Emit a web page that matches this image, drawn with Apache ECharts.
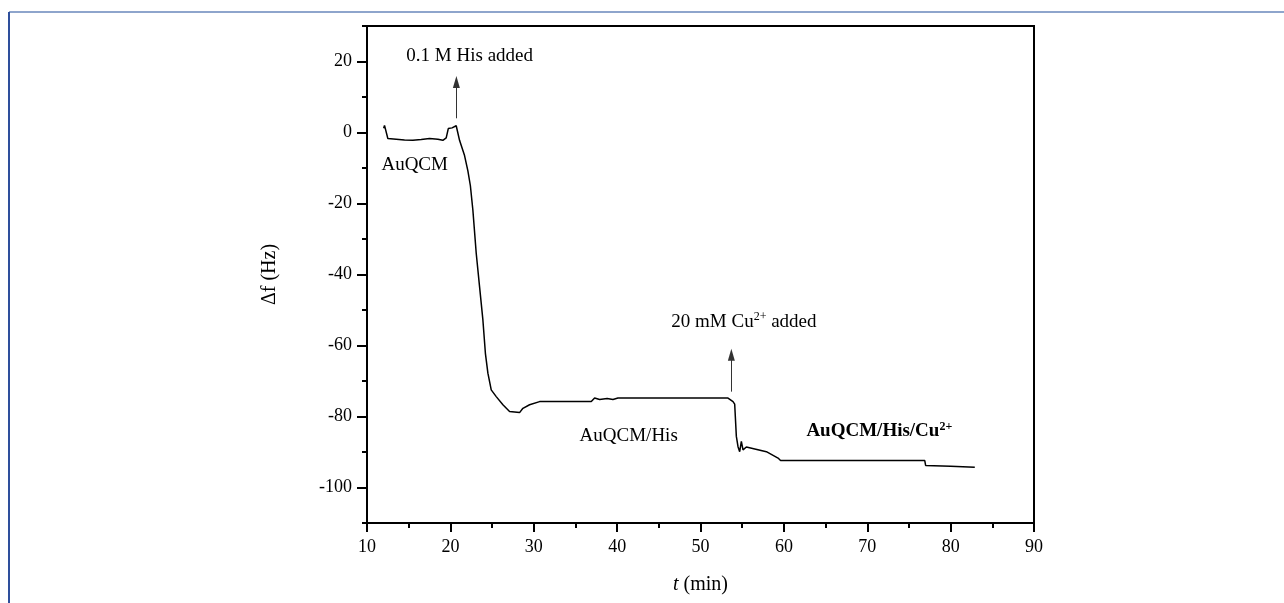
<!DOCTYPE html>
<html>
<head>
<meta charset="utf-8">
<script src="https://cdn.jsdelivr.net/npm/echarts@6/dist/echarts.min.js"></script>
<style>
  html, body { margin: 0; padding: 0; background: #fff; }
  #chart { width: 1284px; height: 603px; }
</style>
</head>
<body>
<div id="chart"></div>
<script>
// time (min) and frequency shift (Hz)
var timeMin = [
  12.0, 12.1, 12.3, 12.5, 13.5, 14.5, 15.5, 16.5, 17.5, 18.5, 19.1, 19.5,
  19.7, 19.75, 20.2, 20.7, 21.1, 21.7, 22.1, 22.4, 22.7, 23.1, 23.5, 23.9,
  24.2, 24.5, 24.9, 25.5, 26.3, 27.1, 28.3, 28.7, 29.5, 30.7, 36.9, 37.3,
  37.9, 38.8, 39.5, 40.1, 53.3, 53.9, 54.1, 54.3, 54.5, 54.7, 54.9, 55.1,
  55.5, 57.9, 59.3, 59.6, 76.9, 77.0, 80.0, 82.9
];
var deltaF = [
  1.2, 2.0, 1.5, -1.7, -1.9, -2.1, -2.2, -2.0, -1.7, -1.9, -2.2, -1.5,
  -1.2, 1.1, 1.3, 1.9, -2.2, -6.5, -10.8, -15, -21.9, -34, -43.4, -52.8,
  -62.2, -67.8, -72.5, -74.4, -76.7, -78.6, -78.9, -77.7, -76.7, -75.8, -75.8, -74.8,
  -75.2, -74.9, -75.2, -74.8, -74.8, -75.8, -76.5, -85.6, -88.5, -89.9, -87, -89.4,
  -88.6, -89.9, -91.7, -92.4, -92.4, -93.8, -94.0, -94.3
];
var yMajorTicks = [-100, -80, -60, -40, -20, 0, 20];

var serif = 'Liberation Serif';
var chart = echarts.init(document.getElementById('chart'));

var points = timeMin.map(function (t, i) { return [t, deltaF[i]]; });

function note(t, f, text, extra) {
  return {
    coord: [t, f],
    value: 0,
    label: Object.assign({
      show: true,
      position: 'inside',
      align: 'left',
      verticalAlign: 'middle',
      color: '#000',
      fontFamily: serif,
      fontSize: 19,
      formatter: text
    }, extra || {})
  };
}

var supRich = {
  a: { fontFamily: serif, fontSize: 19, color: '#000' },
  b: { fontFamily: serif, fontSize: 19, color: '#000', fontWeight: 'bold' },
  s: { fontFamily: serif, fontSize: 12, color: '#000', padding: [0, 0, 10, 0] },
  sb: { fontFamily: serif, fontSize: 12, color: '#000', fontWeight: 'bold', padding: [0, 0, 10, 0] }
};

chart.setOption({
  animation: false,
  backgroundColor: '#fff',
  grid: {
    left: 367,
    right: 250,
    top: 26,
    bottom: 80,
    show: true,
    borderColor: '#000',
    borderWidth: 2,
    backgroundColor: 'transparent'
  },
  graphic: [
    { type: 'line', shape: { x1: 9, y1: 12, x2: 1284, y2: 12 }, style: { stroke: '#8ea5cc', lineWidth: 2 } },
    { type: 'line', shape: { x1: 9, y1: 12, x2: 9, y2: 603 }, style: { stroke: '#2e4f9c', lineWidth: 2 } }
  ],
  xAxis: {
    type: 'value',
    min: 10,
    max: 90,
    interval: 10,
    name: '{i|t} (min)',
    nameLocation: 'middle',
    nameGap: 52,
    nameTextStyle: {
      fontFamily: serif, fontSize: 20, color: '#000',
      rich: { i: { fontFamily: serif, fontSize: 20, fontStyle: 'italic', color: '#000' } }
    },
    axisLine: { onZero: false, lineStyle: { color: '#000', width: 2 } },
    axisTick: { length: 9, lineStyle: { color: '#000', width: 2 } },
    minorTick: { show: true, splitNumber: 2, length: 5, lineStyle: { color: '#000', width: 2 } },
    axisLabel: { fontFamily: serif, fontSize: 18, color: '#000', margin: 15 },
    splitLine: { show: false }
  },
  yAxis: [
    {
      type: 'value',
      min: -110,
      max: 30,
      interval: 10,
      name: 'Δf (Hz)',
      nameLocation: 'middle',
      nameGap: 87,
      nameRotate: 90,
      nameTextStyle: { fontFamily: serif, fontSize: 20, color: '#000' },
      axisLine: { show: true, onZero: false, lineStyle: { color: '#000', width: 2 } },
      axisTick: { length: 5, lineStyle: { color: '#000', width: 2 } },
      axisLabel: {
        fontFamily: serif, fontSize: 18, color: '#000', margin: 15,
        formatter: function (v) { return v % 20 === 0 ? String(v) : ''; }
      },
      splitLine: { show: false }
    },
    {
      type: 'value',
      min: -110,
      max: 30,
      position: 'left',
      axisLine: { show: false, onZero: false },
      axisTick: { show: true, length: 10, customValues: yMajorTicks, lineStyle: { color: '#000', width: 2 } },
      axisLabel: { show: false },
      splitLine: { show: false }
    }
  ],
  series: [
    {
      type: 'line',
      data: points,
      yAxisIndex: 0,
      showSymbol: false,
      lineStyle: { color: '#000', width: 1.5 },
      markLine: {
        silent: true,
        symbol: ['none', 'triangle'],
        symbolSize: [7, 12],
        label: { show: false },
        lineStyle: { color: '#333', width: 1, type: 'solid' },
        data: [
          [{ coord: [20.72, 4] }, { coord: [20.72, 14.2] }],
          [{ coord: [53.7, -73] }, { coord: [53.7, -62.6] }]
        ]
      },
      markPoint: {
        silent: true,
        symbol: 'circle',
        symbolSize: 0,
        itemStyle: { color: 'transparent' },
        data: [
          note(14.72, 21.5, '0.1 M His added'),
          note(11.73, -9.2, 'AuQCM'),
          note(35.5, -85.6, 'AuQCM/His'),
          note(46.5, -53.3, '{a|20 mM Cu}{s|2+}{a| added}', { rich: supRich }),
          note(62.7, -84.2, '{b|AuQCM/His/Cu}{sb|2+}', { rich: supRich })
        ]
      }
    }
  ]
});
</script>
</body>
</html>
